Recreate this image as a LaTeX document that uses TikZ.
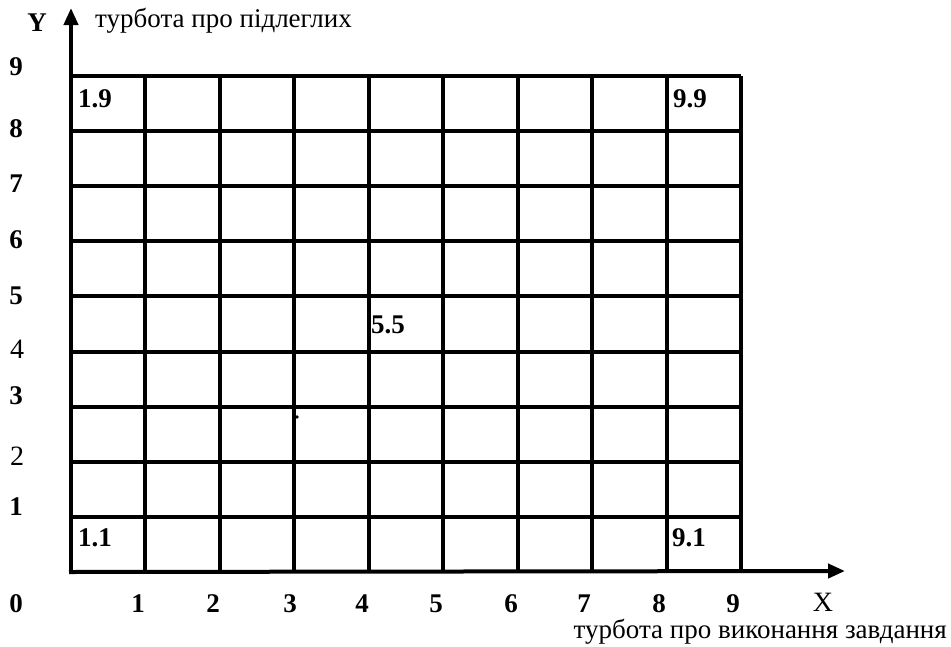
\documentclass[tikz,border=0pt]{standalone}
\usepackage{fontspec}
\setmainfont{Liberation Serif}
\usetikzlibrary{arrows.meta}
\begin{document}
\begin{tikzpicture}[x=1pt,y=-1pt,
  gridline/.style={line width=4pt},
  axisline/.style={line width=4pt,-{Triangle[length=17pt,width=14pt]}},
  bnum/.style={font=\fontsize{27}{30}\bfseries\selectfont,inner sep=0pt},
  rnum/.style={font=\fontsize{28}{30}\selectfont,inner sep=0pt},
  caption/.style={font=\fontsize{27}{30}\selectfont,inner sep=0pt},
  cell/.style={font=\fontsize{27}{30}\bfseries\selectfont,inner sep=0pt}]
\useasboundingbox (0,0) rectangle (951,646);
% grid
\foreach \i in {1,...,9} {
  \draw[gridline] ({71+\i*74.444},572) -- ({71+\i*74.444},76);
}
\foreach \j in {0,...,8} {
  \draw[gridline] (71,{76+\j*55.111}) -- (741,{76+\j*55.111});
}
% axes
\coordinate (O) at (71,572);
\coordinate (ytip) at (71,8);
\coordinate (xtip) at (845,571);
\draw[axisline] ([yshift=2pt]O) -- (ytip);
\draw[axisline] ([xshift=-2pt]O) -- (xtip);
% stray dot
\fill (297,417) circle (1.8pt);
% axis names
\node[bnum] (Ylab) at (37,23) {Y};
\node[caption,anchor=west] (ycap) at (95,21) {турбота про підлеглих};
\node[rnum] (Xlab) at (823,602) {X};
\node[caption,anchor=east] (xcap) at (947,632) {турбота про виконання завдання};
% y ticks
\node[bnum] (y9) at (16,67) {9};
\node[bnum] (y8) at (16,129) {8};
\node[bnum] (y7) at (16,184) {7};
\node[bnum] (y6) at (16,240) {6};
\node[bnum] (y5) at (16,296) {5};
\node[rnum] (y4) at (17,349) {4};
\node[bnum] (y3) at (16,396) {3};
\node[rnum] (y2) at (17,456) {2};
\node[bnum] (y1) at (16,507) {1};
\node[bnum] (y0) at (16,604) {0};
% x ticks
\node[bnum] (x1) at (138,604) {1};
\node[bnum] (x2) at (213,604) {2};
\node[bnum] (x3) at (290,604) {3};
\node[bnum] (x4) at (362,604) {4};
\node[bnum] (x5) at (436,604) {5};
\node[bnum] (x6) at (511,604) {6};
\node[bnum] (x7) at (584,604) {7};
\node[bnum] (x8) at (659,604) {8};
\node[bnum] (x9) at (733,604) {9};
% cell labels
\node[cell] (c19) at (95,99) {1.9};
\node[cell] (c99) at (690,99) {9.9};
\node[cell] (c55) at (388,325) {5.5};
\node[cell] (c11) at (95,538) {1.1};
\node[cell] (c91) at (689,538) {9.1};
\end{tikzpicture}
\end{document}
